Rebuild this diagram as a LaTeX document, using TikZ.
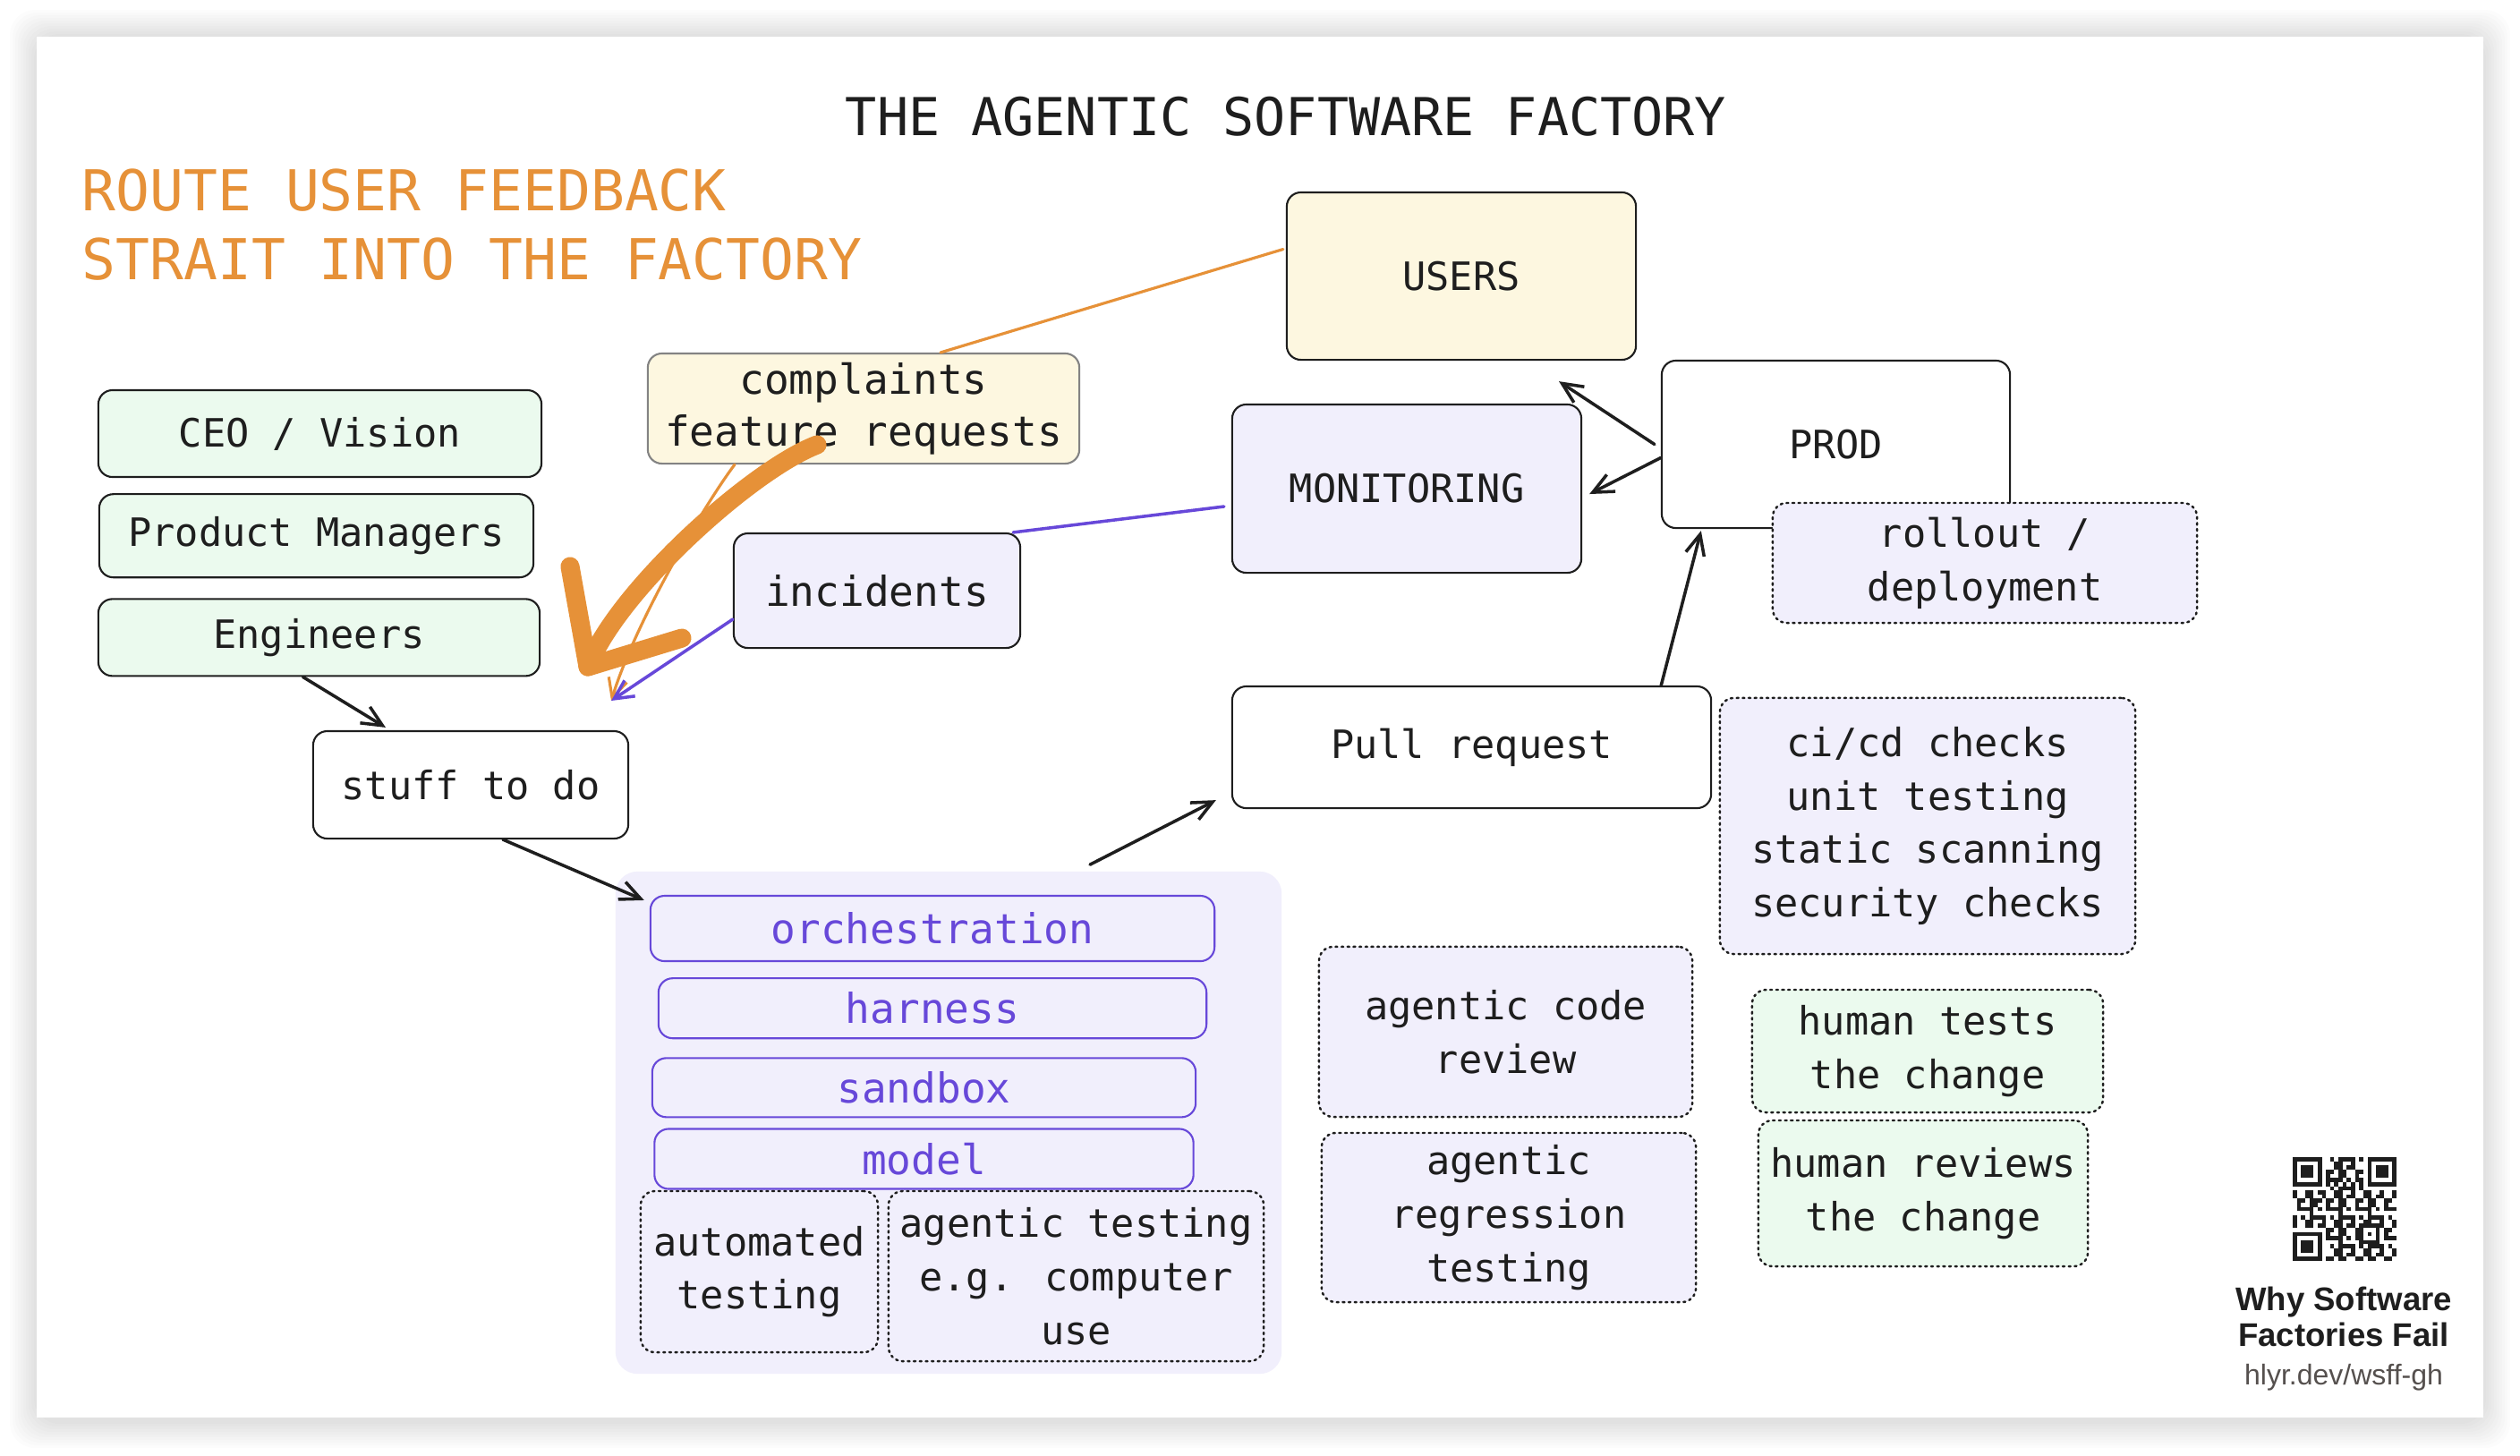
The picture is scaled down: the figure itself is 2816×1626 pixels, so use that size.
\documentclass[tikz,border=0pt]{standalone}
\usepackage{fontspec}
\usepackage{xcolor}
\usepackage{tikz}
\usetikzlibrary{positioning, arrows.meta, calc}
\newfontfamily\sketchfont{DejaVu Sans Mono}
\newfontfamily\qrfont{Liberation Sans}
\newcommand\boxfont{\sketchfont\fontsize{12.4pt}{17pt}\selectfont}
\newcommand\layerfont{\sketchfont\fontsize{13.1pt}{16.4pt}\selectfont}
\definecolor{ink}{RGB}{30,30,30}
\definecolor{accent}{RGB}{230,145,56}
\definecolor{layerpurple}{RGB}{103,72,217}
\definecolor{lavender}{RGB}{241,239,252}
\definecolor{mint}{RGB}{235,250,238}
\definecolor{cream}{RGB}{253,247,224}
\definecolor{urlgray}{RGB}{85,80,78}
\tikzset{
  box/.style={
    draw=ink, line width=0.6pt, rounded corners=4.5pt,
    inner sep=0pt, align=center, text=ink, font=\boxfont
  },
  greenbox/.style={box, fill=mint},
  dotbox/.style={box, fill=lavender, line width=0.7pt, line cap=round, dash pattern=on 0.6pt off 1.3pt},
  humanbox/.style={dotbox, fill=mint},
  layer/.style={box, draw=layerpurple, fill=lavender, text=layerpurple, font=\layerfont},
  flow/.style={draw=ink, line width=1pt, line cap=round, -{Straight Barb[length=6.5pt,width=6pt]}},
  feedback/.style={draw=accent, line width=0.9pt, line cap=round},
  alert/.style={draw=layerpurple, line width=1pt, line cap=round},
  brush/.style={draw=accent, line width=6pt, line cap=round, line join=round},
}

\begin{document}
\begin{tikzpicture}[x=0.01cm, y=-0.01cm]
  \useasboundingbox (0,0) rectangle (2816,1626);
  \foreach \i in {1,...,10}
    \fill[black, opacity=0.012, rounded corners=8pt] (41-3*\i,41-3*\i) rectangle (2775+3*\i,1588+3*\i);
  \fill[white] (41,41) rectangle (2775,1584);

  \node[font=\sketchfont\fontsize{16.6pt}{20pt}\selectfont, text=ink] (title) at (1437,130) {THE AGENTIC SOFTWARE FACTORY};
  \node[anchor=base west, inner sep=0pt, font=\sketchfont\fontsize{17.9pt}{22pt}\selectfont, text=accent] (route) at (91,235) {ROUTE USER FEEDBACK};
  \node[anchor=base west, inner sep=0pt, font=\sketchfont\fontsize{17.9pt}{22pt}\selectfont, text=accent] (strait) at (91,312) {STRAIT INTO THE FACTORY};

  \node[greenbox, minimum width=4.95cm, minimum height=0.97cm] (ceo) at (357.5,484.5) {CEO / Vision};
  \node[greenbox, minimum width=4.85cm, minimum height=0.93cm, below=0.17cm of ceo, xshift=-0.04cm] (pm) {Product Managers};
  \node[greenbox, minimum width=4.93cm, minimum height=0.86cm, below=0.22cm of pm, xshift=0.03cm] (eng) {Engineers};
  \node[box, fill=white, minimum width=3.52cm, minimum height=1.2cm] (todo) at (526,877) {stuff to do};

  \node[box, fill=cream, draw=ink!55, font=\layerfont, minimum width=4.82cm, minimum height=1.23cm] (asks) at (965,456.5) {complaints\\feature requests};
  \node[box, fill=lavender, font=\layerfont, minimum width=3.2cm, minimum height=1.28cm] (inc) at (980,660) {incidents};
  \node[box, fill=cream, minimum width=3.9cm, minimum height=1.87cm] (users) at (1633,308.5) {USERS};
  \node[box, fill=lavender, minimum width=3.9cm, minimum height=1.88cm] (mon) at (1572,546) {MONITORING};
  \node[box, fill=white, minimum width=3.89cm, minimum height=1.87cm] (prod) at (2051.5,496.5) {PROD};
  \node[dotbox, minimum width=4.74cm, minimum height=1.34cm] (rollout) at (2218,629) {rollout /\\deployment};
  \node[box, fill=white, minimum width=5.35cm, minimum height=1.36cm] (pr) at (1644.5,835) {Pull request};
  \node[dotbox, minimum width=4.64cm, minimum height=2.86cm] (checks) at (2154,923) {ci/cd checks\\unit testing\\static scanning\\security checks};
  \node[dotbox, minimum width=4.17cm, minimum height=1.9cm] (review) at (1682.5,1153) {agentic code\\review};
  \node[dotbox, minimum width=4.18cm, minimum height=1.89cm] (regress) at (1686,1360.5) {agentic\\regression\\testing};
  \node[humanbox, minimum width=3.92cm, minimum height=1.37cm] (htest) at (2154,1174.5) {human tests\\the change};
  \node[humanbox, minimum width=3.68cm, minimum height=1.63cm] (hreview) at (2149,1333.5) {human reviews\\the change};

  \node[fill=lavender, rounded corners=7pt, inner sep=0pt, minimum width=7.44cm, minimum height=5.61cm] (factory) at (1060,1254.5) {};
  \node[layer, minimum width=6.3cm, minimum height=0.73cm] (orch) at (1042,1037.5) {orchestration};
  \node[layer, minimum width=6.12cm, minimum height=0.67cm, below=0.17cm of orch] (harness) {harness};
  \node[layer, minimum width=6.07cm, minimum height=0.66cm, below=0.2cm of harness, xshift=-0.095cm] (sandbox) {sandbox};
  \node[layer, minimum width=6.02cm, minimum height=0.67cm, below=0.11cm of sandbox] (model) {model};
  \node[dotbox, minimum width=2.65cm, minimum height=1.8cm] (autotest) at (848.5,1421) {automated\\testing};
  \node[dotbox, minimum width=4.19cm, minimum height=1.9cm] (agtest) at (1202.5,1426) {agentic testing\\e.g. computer\\use};

  \coordinate (intake) at (683,783);
  \draw[feedback] ($(users.west)+(-3,-30)$) -- ($(asks.north)+(86,0)$);
  \draw[feedback, -{Straight Barb[length=6pt,width=6pt]}] ($(asks.south)+(-144,0)$) .. controls (790,560) and (712,690) .. (intake);
  \draw[alert] ($(mon.west)+(-8,20)$) -- ($(inc.north east)+(-9,0)$);
  \draw[alert, -{Straight Barb[length=6pt,width=6pt]}] ($(inc.west)+(0,32)$) -- (intake);
  \draw[brush] (913,497) .. controls (840,525) and (690,660) .. (657,745);
  \draw[brush] (637,633) -- (657,745) -- (762,713);

  \draw[flow] ($(eng.south)+(-18,0)$) -- ($(todo.north)+(-95,-3)$);
  \draw[flow] ($(todo.south)+(36,0)$) -- ($(orch.north west)+(-6,6)$);
  \draw[flow] ($(factory.north)+(158,-7)$) -- ($(pr.south west)+(-17,-10)$);
  \draw[flow] ($(pr.north east)+(-57,0)$) -- ($(prod.south west)+(45,2)$);
  \draw[flow] ($(prod.west)+(-7,0)$) -- ($(users.south)+(109,23)$);
  \draw[flow] ($(prod.west)+(0,15)$) -- ($(mon.east)+(8,6)$);

  \def\qm{4.64}
  \foreach \r in {0,...,24}{
    \foreach \c in {0,...,24}{
      \pgfmathtruncatemacro\qrskip{(\r<8 && \c<8) || (\r<8 && \c>16) || (\r>16 && \c<8) || (\r>15 && \r<21 && \c>15 && \c<21) || \r==6 || \c==6}
      \ifnum\qrskip=0
        \pgfmathtruncatemacro\qrbit{mod(\r*\r*7+\c*\c*3+\r*\c*5+\r+2*\c,7)<3}
        \ifnum\qrbit=1 \fill[ink] (2562+\c*\qm,1293+\r*\qm) rectangle ++(\qm,\qm); \fi
      \fi
    }
  }
  \foreach \fc/\fr in {0/0,18/0,0/18}{
    \fill[ink] (2562+\fc*\qm,1293+\fr*\qm) rectangle ++(7*\qm,7*\qm);
    \fill[white] (2562+\fc*\qm+\qm,1293+\fr*\qm+\qm) rectangle ++(5*\qm,5*\qm);
    \fill[ink] (2562+\fc*\qm+2*\qm,1293+\fr*\qm+2*\qm) rectangle ++(3*\qm,3*\qm);
  }
  \fill[ink] (2562+16*\qm,1293+16*\qm) rectangle ++(5*\qm,5*\qm);
  \fill[white] (2562+17*\qm,1293+17*\qm) rectangle ++(3*\qm,3*\qm);
  \fill[ink] (2562+18*\qm,1293+18*\qm) rectangle ++(\qm,\qm);
  \foreach \t in {8,10,...,16}{
    \fill[ink] (2562+\t*\qm,1293+6*\qm) rectangle ++(\qm,\qm);
    \fill[ink] (2562+6*\qm,1293+\t*\qm) rectangle ++(\qm,\qm);
  }

  \node[anchor=base, inner sep=0pt, font=\qrfont\bfseries\fontsize{10.4pt}{11pt}\selectfont, text=ink] (book) at (2619,1464) {Why Software};
  \node[anchor=base, inner sep=0pt, font=\qrfont\bfseries\fontsize{10.4pt}{11pt}\selectfont, text=ink] (fail) at (2619,1504) {Factories Fail};
  \node[anchor=base, inner sep=0pt, font=\qrfont\fontsize{9.1pt}{10pt}\selectfont, text=urlgray] (link) at (2619,1547) {hlyr.dev/wsff-gh};
\end{tikzpicture}
\end{document}
